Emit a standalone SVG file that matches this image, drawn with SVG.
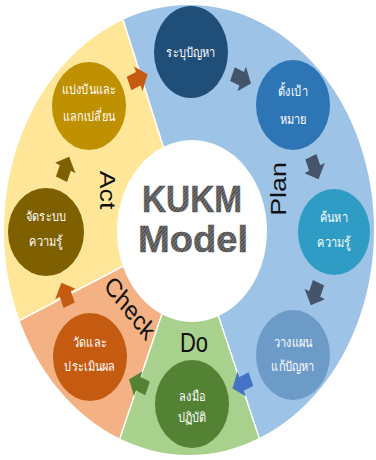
<svg xmlns="http://www.w3.org/2000/svg" width="376" height="460" viewBox="0 0 376 460">
  <defs>
    <clipPath id="ring">
      <ellipse cx="189" cy="230" rx="185" ry="225"/>
    </clipPath>
    <!-- fine hatched grey fill for the centre title -->
    <pattern id="hatch" patternUnits="userSpaceOnUse" width="2.4" height="2.4" patternTransform="rotate(-45)">
      <rect width="2.4" height="2.4" fill="#505050"/>
      <rect width="2.4" height="0.8" fill="#858585"/>
    </pattern>
    <!-- short block arrow pointing along +x -->
    <path id="arr" d="M-10,-6 L0,-6 L0,-11 L10,0 L0,11 L0,6 L-10,6 Z"/>
    <style>
      .sep { stroke: #ffffff; stroke-width: 1.5; fill: none; }
      .phase { font-family: "Liberation Sans", Arial, sans-serif; font-size: 22px; fill: #111111; text-anchor: middle; }
      .th { font-family: "Noto Sans", "DejaVu Sans", sans-serif; font-size: 11px; fill: #ffffff; text-anchor: middle; }
      .title { font-family: "Liberation Sans", Arial, sans-serif; font-weight: bold; font-size: 31px; fill: url(#hatch); stroke: #484848; stroke-width: 0.4; text-anchor: middle; }
    </style>
  </defs>

  <!-- phase sectors -->
  <g id="sectors" clip-path="url(#ring)">
    <polygon id="plan-sector" points="190,231 101,-50 450,-50 450,500 280,500" fill="#9dc3e6"/>
    <polygon id="do-sector" points="190,231 280,500 99,500" fill="#a9d18e"/>
    <polygon id="check-sector" points="190,231 99,500 -50,500 -50,357" fill="#f4b183"/>
    <polygon id="act-sector" points="190,231 -50,357 -50,-50 101,-50" fill="#ffe699"/>
    <line class="sep" x1="190" y1="231" x2="101" y2="-50"/>
    <line class="sep" x1="190" y1="231" x2="280" y2="500"/>
    <line class="sep" x1="190" y1="231" x2="99" y2="500"/>
    <line class="sep" x1="190" y1="231" x2="-50" y2="357"/>
  </g>

  <!-- centre hub -->
  <g id="hub">
    <ellipse cx="192" cy="231" rx="75" ry="91" fill="#ffffff"/>
    <text class="title" transform="translate(192,212) scale(1,1.22)" textLength="100" lengthAdjust="spacingAndGlyphs">KUKM</text>
    <text class="title" transform="translate(193,252) scale(1,1.22)" textLength="110" lengthAdjust="spacingAndGlyphs">Model</text>
  </g>

  <!-- phase labels -->
  <g id="labels">
    <text class="phase" transform="translate(286,189) scale(1,1.22) rotate(-90)">Plan</text>
    <text class="phase" transform="translate(194,352) scale(1,1.22)">Do</text>
    <text class="phase" transform="translate(124.6,314.4) scale(1,1.22) rotate(46)">Check</text>
    <text class="phase" transform="translate(100,190) scale(1,1.22) rotate(90)">Act</text>
  </g>

  <!-- connectors -->
  <g id="connectors">
    <use href="#arr" fill="#c55a11" transform="translate(138.3,78.8) scale(1,1.22) rotate(-22.5)"/>
    <use href="#arr" fill="#44546a" transform="translate(241.7,78.8) scale(1,1.22) rotate(22.5)"/>
    <use href="#arr" fill="#44546a" transform="translate(314.7,168) scale(1,1.22) rotate(67.5)"/>
    <use href="#arr" fill="#44546a" transform="translate(314.7,294) scale(1,1.22) rotate(112.5)"/>
    <use href="#arr" fill="#4472c4" transform="translate(241.7,383.8) scale(1,1.22) rotate(157.5)"/>
    <use href="#arr" fill="#548235" transform="translate(138.3,383.8) scale(1,1.22) rotate(202.5)"/>
    <use href="#arr" fill="#c55a11" transform="translate(65.3,294) scale(1,1.22) rotate(247.5)"/>
    <use href="#arr" fill="#7f6000" transform="translate(65.3,168) scale(1,1.22) rotate(292.5)"/>
  </g>

  <!-- steps -->
  <g id="identify">
    <ellipse cx="191" cy="52" rx="37" ry="46" fill="#1f4e79"/>
    <text class="th" transform="translate(191,57) scale(1,1.22)">ระบุปัญหา</text>
  </g>
  <g id="goal">
    <ellipse cx="293" cy="105" rx="37" ry="45" fill="#2e75b6"/>
    <text class="th" transform="translate(293,96) scale(1,1.22)">ตั้งเป้า</text>
    <text class="th" transform="translate(293,124) scale(1,1.22)">หมาย</text>
  </g>
  <g id="seek">
    <ellipse cx="334" cy="232" rx="36" ry="43" fill="#2e9cc4"/>
    <text class="th" transform="translate(334,222) scale(1,1.22)">ค้นหา</text>
    <text class="th" transform="translate(334,247) scale(1,1.22)">ความรู้</text>
  </g>
  <g id="planning">
    <ellipse cx="293" cy="355" rx="37" ry="45" fill="#6d9bc7"/>
    <text class="th" transform="translate(293,347) scale(1,1.22)">วางแผน</text>
    <text class="th" transform="translate(293,371) scale(1,1.22)">แก้ปัญหา</text>
  </g>
  <g id="practice">
    <ellipse cx="192" cy="404" rx="37" ry="44" fill="#548235"/>
    <text class="th" transform="translate(192,401) scale(1,1.22)">ลงมือ</text>
    <text class="th" transform="translate(192,422) scale(1,1.22)">ปฏิบัติ</text>
  </g>
  <g id="evaluate">
    <ellipse cx="90" cy="357" rx="37" ry="44" fill="#c55a11"/>
    <text class="th" transform="translate(90,347) scale(1,1.22)">วัดและ</text>
    <text class="th" transform="translate(90,371) scale(1,1.22)">ประเมินผล</text>
  </g>
  <g id="organise">
    <ellipse cx="46" cy="232" rx="38" ry="44" fill="#7f6000"/>
    <text class="th" transform="translate(46,221) scale(1,1.22)">จัดระบบ</text>
    <text class="th" transform="translate(46,246) scale(1,1.22)">ความรู้</text>
  </g>
  <g id="share">
    <ellipse cx="89" cy="106" rx="37" ry="44" fill="#bf9000"/>
    <text class="th" transform="translate(89,94) scale(1,1.22)">แบ่งปันและ</text>
    <text class="th" transform="translate(89,121) scale(1,1.22)">แลกเปลี่ยน</text>
  </g>
</svg>
